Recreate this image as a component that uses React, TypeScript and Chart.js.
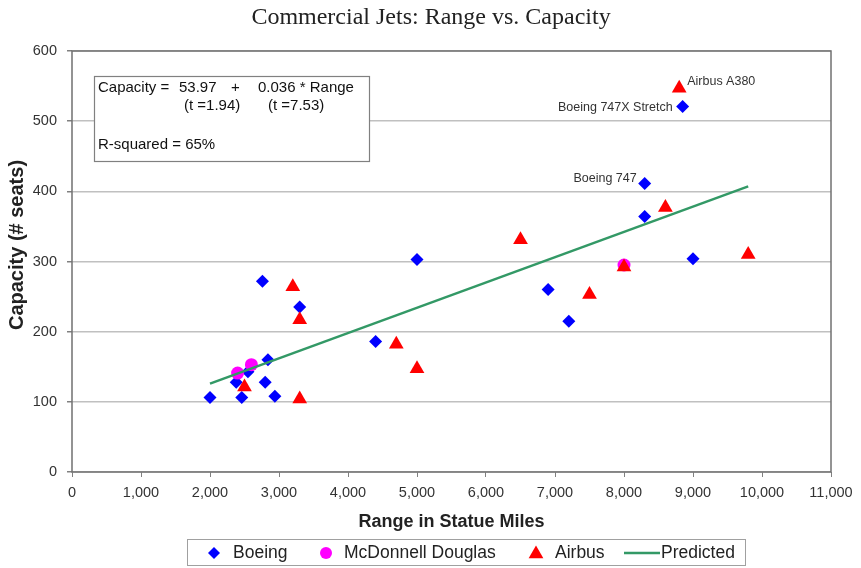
import React, { useEffect, useRef } from "react";
import { Chart, registerables } from "chart.js";

Chart.register(...registerables);

// ---- data ----
const boeingRange = [2000, 2460, 2940, 2800, 2380, 2550, 2840, 2760, 3300, 4400, 5000, 6900, 7200, 8300, 8300, 9000, 8850];
const boeingSeats = [106, 106, 108, 128, 128, 143, 160, 272, 235, 186, 303, 260, 215, 364, 411, 304, 521];
const mdRange = [2400, 2600, 8000];
const mdSeats = [141, 153, 295];
const airbusRange = [2500, 3300, 3200, 3300, 4700, 5000, 6500, 7500, 8000, 8600, 9800, 8800];
const airbusSeats = [121, 104, 264, 217, 182, 147, 331, 253, 292, 377, 310, 547];
const predictedRange = [2000, 9800];
const predictedSeats = [126, 407];

const xTickValues = [0, 1000, 2000, 3000, 4000, 5000, 6000, 7000, 8000, 9000, 10000, 11000];
const yTickValues = [0, 100, 200, 300, 400, 500, 600];

const labelTexts = ["Airbus A380", "Boeing 747X Stretch", "Boeing 747"];
const labelRanges = [8800, 8850, 8300];
const labelSeats = [547, 521, 411];
const labelSides = ["right", "left", "left"];

const titleText = "Commercial Jets: Range vs. Capacity";
const xTitle = "Range in Statue Miles";
const yTitle = "Capacity (# seats)";
const legendNames = ["Boeing", "McDonnell Douglas", "Airbus", "Predicted"];

const SANS = "'Liberation Sans', Arial, sans-serif";

const pts = (xs: number[], ys: number[]) => xs.map((x, i) => ({ x, y: ys[i] }));

function drawMarker(ctx: CanvasRenderingContext2D, kind: string, x: number, y: number, r: number, color: string) {
  ctx.save();
  ctx.fillStyle = color;
  ctx.beginPath();
  if (kind === "diamond") {
    ctx.moveTo(x - r, y);
    ctx.lineTo(x, y - r);
    ctx.lineTo(x + r, y);
    ctx.lineTo(x, y + r);
  } else if (kind === "circle") {
    ctx.arc(x, y, r, 0, Math.PI * 2);
  } else {
    ctx.moveTo(x, y - r);
    ctx.lineTo(x + r * 0.866, y + r / 2);
    ctx.lineTo(x - r * 0.866, y + r / 2);
  }
  ctx.closePath();
  ctx.fill();
  ctx.restore();
}

const decorPlugin = {
  id: "decor",
  beforeDatasetsDraw(chart: any) {
    const { ctx, chartArea: a } = chart;
    ctx.save();
    ctx.strokeStyle = "#707070";
    ctx.lineWidth = 1.5;
    ctx.strokeRect(a.left, a.top, a.right - a.left, a.bottom - a.top);

    // equation box
    ctx.fillStyle = "#ffffff";
    ctx.fillRect(94.5, 76.5, 275, 85);
    ctx.strokeStyle = "#808080";
    ctx.lineWidth = 1.2;
    ctx.strokeRect(94.5, 76.5, 275, 85);
    ctx.fillStyle = "#111";
    ctx.font = `15px ${SANS}`;
    ctx.textBaseline = "middle";
    ctx.textAlign = "left";
    ctx.fillText("Capacity =", 98, 88);
    ctx.fillText("53.97", 179, 88);
    ctx.fillText("+", 231, 88);
    ctx.fillText("0.036 * Range", 258, 88);
    ctx.fillText("(t =1.94)", 184, 106);
    ctx.fillText("(t =7.53)", 268, 106);
    ctx.fillText("R-squared = 65%", 98, 145);
    ctx.restore();
  },
  afterDraw(chart: any) {
    const { ctx, chartArea: a, scales } = chart;
    ctx.save();
    // title
    ctx.fillStyle = "#222";
    ctx.font = "24px 'Liberation Serif', 'Times New Roman', serif";
    ctx.textAlign = "center";
    ctx.textBaseline = "middle";
    ctx.fillText(titleText, 431, 18);

    // axis titles
    ctx.fillStyle = "#222";
    ctx.font = `bold 18px ${SANS}`;
    ctx.fillText(xTitle, (a.left + a.right) / 2, 522);
    ctx.save();
    ctx.translate(17, 245);
    ctx.rotate(-Math.PI / 2);
    ctx.font = `bold 20px ${SANS}`;
    ctx.fillText(yTitle, 0, 0);
    ctx.restore();

    // point labels
    ctx.font = `12.5px ${SANS}`;
    ctx.fillStyle = "#333";
    labelTexts.forEach((t, i) => {
      const px = scales.x.getPixelForValue(labelRanges[i]);
      const py = scales.y.getPixelForValue(labelSeats[i]);
      if (labelSides[i] === "right") {
        ctx.textAlign = "left";
        ctx.fillText(t, px + 8, py - 7);
      } else {
        ctx.textAlign = "right";
        ctx.fillText(t, px - (i === 1 ? 10 : 8), py + (i === 1 ? 1 : -5));
      }
    });

    // legend
    ctx.strokeStyle = "#a0a0a0";
    ctx.lineWidth = 1;
    ctx.strokeRect(187.5, 539.5, 558, 26);
    const ly = 553;
    ctx.font = `17.5px ${SANS}`;
    ctx.fillStyle = "#222";
    ctx.textAlign = "left";
    drawMarker(ctx, "diamond", 214, ly, 6, "#0000ff");
    ctx.fillText(legendNames[0], 233, ly);
    drawMarker(ctx, "circle", 326, ly, 6, "#ff00ff");
    ctx.fillText(legendNames[1], 344, ly);
    drawMarker(ctx, "triangle", 536, ly + 1, 8.5, "#ff0000");
    ctx.fillText(legendNames[2], 555, ly);
    ctx.strokeStyle = "#339966";
    ctx.lineWidth = 2.5;
    ctx.beginPath();
    ctx.moveTo(624, ly);
    ctx.lineTo(660, ly);
    ctx.stroke();
    ctx.fillText(legendNames[3], 661, ly);
    ctx.restore();
  },
};

export default function App() {
  const ref = useRef<HTMLCanvasElement | null>(null);
  useEffect(() => {
    if (!ref.current) return;
    const chart = new Chart(ref.current, {
      type: "scatter",
      data: {
        datasets: [
          {
            label: legendNames[0],
            data: pts(boeingRange, boeingSeats),
            pointStyle: "rectRot",
            pointRadius: 6.5,
            backgroundColor: "#0000ff",
            borderColor: "#0000ff",
            borderWidth: 0,
            order: 4,
          },
          {
            label: legendNames[1],
            data: pts(mdRange, mdSeats),
            pointStyle: "circle",
            pointRadius: 6.5,
            backgroundColor: "#ff00ff",
            borderColor: "#ff00ff",
            borderWidth: 0,
            order: 3,
          },
          {
            label: legendNames[2],
            data: pts(airbusRange, airbusSeats),
            pointStyle: "triangle",
            pointRadius: 8.5,
            backgroundColor: "#ff0000",
            borderColor: "#ff0000",
            borderWidth: 0,
            order: 2,
          },
          {
            label: legendNames[3],
            data: pts(predictedRange, predictedSeats),
            showLine: true,
            pointRadius: 0,
            borderColor: "#339966",
            borderWidth: 2.5,
            backgroundColor: "#339966",
            order: 1,
          } as any,
        ],
      },
      options: {
        responsive: false,
        animation: false,
        devicePixelRatio: 1,
        layout: { padding: { left: 0, top: 51, right: 30, bottom: 0 } },
        plugins: {
          legend: { display: false },
          title: { display: false },
          tooltip: { enabled: false },
        },
        scales: {
          x: {
            type: "linear",
            min: 0,
            max: 11000,
            afterFit: (s: any) => {
              s.height = 96;
            },
            afterBuildTicks: (s: any) => {
              s.ticks = xTickValues.map((v) => ({ value: v }));
            },
            ticks: {
              font: { size: 14.5, family: SANS },
              color: "#333",
              padding: 7,
              maxRotation: 0,
              callback: (v: any) => Number(v).toLocaleString("en-US"),
            },
            grid: {
              drawOnChartArea: false,
              drawTicks: true,
              tickLength: 5,
              tickColor: "#808080",
            },
            border: { display: false },
          },
          y: {
            type: "linear",
            min: 0,
            max: 600,
            afterFit: (s: any) => {
              s.width = 72;
            },
            afterBuildTicks: (s: any) => {
              s.ticks = yTickValues.map((v) => ({ value: v }));
            },
            ticks: {
              font: { size: 14.5, family: SANS },
              color: "#333",
              padding: 10,
            },
            grid: {
              color: "#c0c0c0",
              lineWidth: 1.5,
              drawTicks: true,
              tickLength: 5,
              tickColor: "#808080",
            },
            border: { display: false },
          },
        },
      },
      plugins: [decorPlugin],
    });
    return () => chart.destroy();
  }, []);
  return (
    <div style={{ position: "absolute", left: 0, top: 0, width: 861, height: 568, background: "#fff" }}>
      <canvas ref={ref} width={861} height={568} />
    </div>
  );
}
